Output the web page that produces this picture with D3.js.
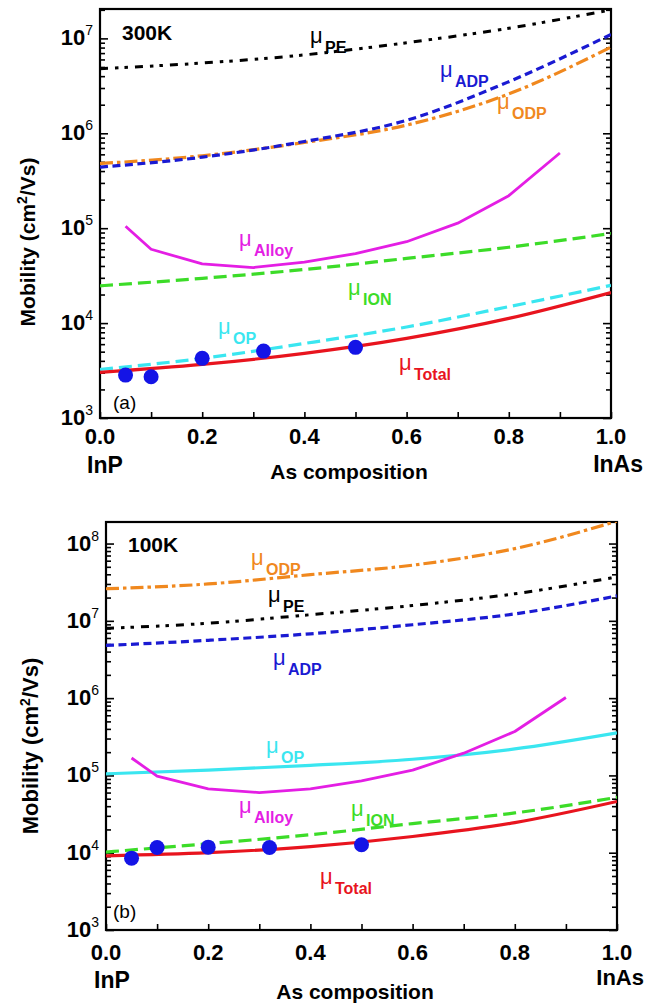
<!DOCTYPE html>
<html><head><meta charset="utf-8">
<script src="https://cdn.jsdelivr.net/npm/d3@7"></script>
<style>body{margin:0;background:#fff}svg{display:block}text{font-family:Arial,"Liberation Sans",sans-serif}</style>
</head><body>
<svg id="c" width="645" height="1008"></svg>
<script>
// ---------- data ----------
const compX = [0, 0.2, 0.4, 0.6, 0.8, 1.0];
const alloyX = [0.05, 0.1, 0.2, 0.3, 0.4, 0.5, 0.6, 0.7, 0.8, 0.9];
const expX = [0.05, 0.1, 0.2, 0.32, 0.5];
const xTickValues = [0, 0.2, 0.4, 0.6, 0.8, 1.0];
const xTickLabels = ["0.0", "0.2", "0.4", "0.6", "0.8", "1.0"];
const xMinorTicks = [0.1, 0.3, 0.5, 0.7, 0.9];

// 300 K
const pe300 = [4.8e6, 5.5e6, 6.7e6, 9.0e6, 1.28e7, 2.0e7];
const adp300 = [4.4e5, 5.6e5, 8.2e5, 1.37e6, 3.5e6, 1.1e7];
const odp300 = [4.8e5, 5.8e5, 8.0e5, 1.22e6, 2.6e6, 8.1e6];
const alloy300 = [1.05e5, 6.0e4, 4.2e4, 3.85e4, 4.4e4, 5.4e4, 7.2e4, 1.13e5, 2.2e5, 6.2e5];
const ion300 = [2.47e4, 2.96e4, 3.67e4, 4.8e4, 6.3e4, 8.8e4];
const op300 = [3.25e3, 4.25e3, 6.1e3, 9.1e3, 1.49e4, 2.5e4];
const total300 = [3.03e3, 3.67e3, 4.8e3, 6.9e3, 1.12e4, 2.1e4];
const exp300 = [2.83e3, 2.72e3, 4.25e3, 5.07e3, 5.55e3];

// 100 K
const odp100 = [2.6e7, 3.0e7, 3.96e7, 5.25e7, 8.6e7, 1.95e8];
const pe100 = [8.0e6, 9.3e6, 1.2e7, 1.58e7, 2.24e7, 3.7e7];
const adp100 = [4.8e6, 5.6e6, 6.8e6, 8.9e6, 1.23e7, 2.1e7];
const op100 = [1.05e5, 1.17e5, 1.35e5, 1.62e5, 2.2e5, 3.55e5];
const alloy100 = [1.68e5, 9.8e4, 6.7e4, 6.0e4, 6.7e4, 8.5e4, 1.17e5, 1.94e5, 3.7e5, 1.02e6];
const ion100 = [1.02e4, 1.31e4, 1.71e4, 2.38e4, 3.27e4, 5.2e4];
const total100 = [9.1e3, 1.0e4, 1.2e4, 1.62e4, 2.45e4, 4.6e4];
const exp100 = [8.5e3, 1.17e4, 1.18e4, 1.17e4, 1.27e4];

const colors = {pe:"#000000", adp:"#1a1ad2", odp:"#f0881e", alloy:"#e41ee4", ion:"#3cdc28", op:"#3ae6f0", total:"#e8141e", exp:"#1414e6"};
const dash = {pe:"8,7,3.5,6,3.5,7", adp:"8,4.5", odp:"13,4,3.5,4", ion:"13,6", opDash:"13,6"};

// ---------- drawing ----------
const svg = d3.select("#c");

function panel(cfg) {
  const x = d3.scaleLinear().domain([0, 1]).range([cfg.x0, cfg.x1]);
  const y = d3.scaleLog().domain(cfg.yDomain).range([cfg.y1, cfg.y0]);
  const g = svg.append("g");
  const clipId = "clip" + cfg.id;
  g.append("clipPath").attr("id", clipId).append("rect")
    .attr("x", cfg.x0).attr("y", cfg.y0).attr("width", cfg.x1 - cfg.x0).attr("height", cfg.y1 - cfg.y0);

  // ticks
  const decades = d3.range(cfg.dec[0], cfg.dec[1] + 1).map(e => Math.pow(10, e));
  const minors = [];
  decades.forEach(d => { for (let k = 2; k <= 9; k++) { const v = d * k; if (v < cfg.yDomain[1]) minors.push(v); } });
  const tickStyle = sel => { sel.select(".domain").remove(); sel.selectAll("line").attr("stroke", "#000").attr("stroke-width", 1.6); };
  g.append("g").attr("transform", `translate(${cfg.x0},0)`)
    .call(d3.axisLeft(y).tickValues(decades).tickSizeInner(-8).tickSizeOuter(0).tickFormat("")).call(tickStyle);
  g.append("g").attr("transform", `translate(${cfg.x0},0)`)
    .call(d3.axisLeft(y).tickValues(minors).tickSizeInner(-5).tickSizeOuter(0).tickFormat("")).call(tickStyle);
  g.append("g").attr("transform", `translate(${cfg.x1},0)`)
    .call(d3.axisRight(y).tickValues(decades).tickSizeInner(-8).tickSizeOuter(0).tickFormat("")).call(tickStyle);
  g.append("g").attr("transform", `translate(${cfg.x1},0)`)
    .call(d3.axisRight(y).tickValues(minors).tickSizeInner(-5).tickSizeOuter(0).tickFormat("")).call(tickStyle);
  g.append("g").attr("transform", `translate(0,${cfg.y1})`)
    .call(d3.axisBottom(x).tickValues(xTickValues.concat(xMinorTicks)).tickSizeInner(-6).tickSizeOuter(0).tickFormat("")).call(tickStyle);

  // frame
  g.append("rect").attr("x", cfg.x0).attr("y", cfg.y0).attr("width", cfg.x1 - cfg.x0).attr("height", cfg.y1 - cfg.y0)
    .attr("fill", "none").attr("stroke", "#000").attr("stroke-width", 2.2);

  // y tick labels
  decades.forEach(d => {
    const t = g.append("text").attr("x", cfg.x0 - 7).attr("y", y(d) + 7).attr("text-anchor", "end")
      .attr("font-size", 22).attr("font-weight", "bold");
    t.append("tspan").text("10");
    t.append("tspan").attr("dy", -10).attr("font-size", 14).attr("font-weight", "normal").text(Math.round(Math.log10(d)));
  });
  // x tick labels
  xTickValues.forEach((v, i) => {
    g.append("text").attr("x", x(v)).attr("y", cfg.xLabY).attr("text-anchor", "middle")
      .attr("font-size", 22).attr("font-weight", "bold").text(xTickLabels[i]);
  });
  g.append("text").attr("x", cfg.inpX).attr("y", cfg.inpY).attr("text-anchor", "middle")
    .attr("font-size", 23).attr("font-weight", "bold").text("InP");
  g.append("text").attr("x", cfg.inasX).attr("y", cfg.inasY).attr("text-anchor", "end")
    .attr("font-size", cfg.inasSize).attr("font-weight", "bold").text("InAs");
  g.append("text").attr("x", cfg.xTitleX).attr("y", cfg.xTitleY).attr("text-anchor", "middle")
    .attr("font-size", 21).attr("font-weight", "bold").text("As composition");
  // y title
  const yt = g.append("text").attr("transform", `translate(${cfg.yTitleX},${cfg.yTitleY}) rotate(-90)`)
    .attr("text-anchor", "middle").attr("font-size", cfg.yTitleSize).attr("font-weight", "bold");
  yt.append("tspan").text("Mobility (cm");
  yt.append("tspan").attr("dy", -8).attr("font-size", 14).text("2");
  yt.append("tspan").attr("dy", 8).text("/Vs)");

  // curves
  const line = d3.line().x(d => x(d[0])).y(d => y(d[1])).curve(d3.curveMonotoneX);
  const lineLin = d3.line().x(d => x(d[0])).y(d => y(d[1]));
  const plot = g.append("g").attr("clip-path", `url(#${clipId})`);
  cfg.series.forEach(s => {
    const pts = s.xs.map((v, i) => [v, s.ys[i]]);
    plot.append("path").attr("d", (s.linear ? lineLin : line)(pts)).attr("fill", "none")
      .attr("stroke", s.color).attr("stroke-width", s.w).attr("stroke-dasharray", s.dash || null)
      .attr("stroke-linejoin", "round");
  });
  plot.selectAll("circle.e").data(expX.map((v, i) => [v, cfg.exp[i]])).join("circle")
    .attr("cx", d => x(d[0])).attr("cy", d => y(d[1])).attr("r", 7.5).attr("fill", colors.exp);

  // labels
  cfg.labels.forEach(l => {
    const t = g.append("text").attr("x", l.x).attr("y", l.y).attr("fill", l.color);
    t.append("tspan").attr("font-size", 22).text("\u03bc");
    t.append("tspan").attr("x", l.x + 15).attr("dy", 10).attr("font-size", 16).attr("font-weight", "bold").text(l.sub);
  });
  g.append("text").attr("x", cfg.tempX).attr("y", cfg.tempY).attr("font-family", "'Liberation Serif','Times New Roman',serif")
    .attr("font-size", 21).attr("font-weight", "bold").text(cfg.temp);
  g.append("text").attr("x", cfg.tagX).attr("y", cfg.tagY).attr("font-size", 19).text(cfg.tag);
}

panel({
  id: "a", x0: 100, x1: 611, y0: 9, y1: 418, yDomain: [1e3, 2.04e7], dec: [3, 7],
  xLabY: 444, inpX: 105, inpY: 473, inasX: 643, inasY: 472, inasSize: 23, xTitleX: 349, xTitleY: 479,
  yTitleX: 35, yTitleY: 242, yTitleSize: 21,
  temp: "300K", tempX: 122, tempY: 40, tag: "(a)", tagX: 113, tagY: 409,
  exp: exp300,
  series: [
    {xs: compX, ys: pe300, color: colors.pe, w: 3, dash: dash.pe},
    {xs: compX, ys: odp300, color: colors.odp, w: 3.2, dash: dash.odp},
    {xs: compX, ys: adp300, color: colors.adp, w: 3.2, dash: dash.adp},
    {xs: alloyX, ys: alloy300, color: colors.alloy, w: 2.8, linear: true},
    {xs: compX, ys: ion300, color: colors.ion, w: 3.2, dash: dash.ion},
    {xs: compX, ys: op300, color: colors.op, w: 3.2, dash: dash.opDash},
    {xs: compX, ys: total300, color: colors.total, w: 3.2}
  ],
  labels: [
    {x: 310, y: 43, sub: "PE", color: colors.pe},
    {x: 440, y: 77, sub: "ADP", color: colors.adp},
    {x: 497, y: 109, sub: "ODP", color: colors.odp},
    {x: 239, y: 246, sub: "Alloy", color: colors.alloy},
    {x: 348, y: 295, sub: "ION", color: colors.ion},
    {x: 218, y: 334, sub: "OP", color: colors.op},
    {x: 399, y: 370, sub: "Total", color: colors.total}
  ]
});

panel({
  id: "b", x0: 106, x1: 617, y0: 522, y1: 930, yDomain: [1e3, 1.9e8], dec: [3, 8],
  xLabY: 960, inpX: 112, inpY: 988, inasX: 644, inasY: 985, inasSize: 22, xTitleX: 355, xTitleY: 999,
  yTitleX: 38, yTitleY: 746, yTitleSize: 22,
  temp: "100K", tempX: 128, tempY: 552, tag: "(b)", tagX: 113, tagY: 918,
  exp: exp100,
  series: [
    {xs: compX, ys: odp100, color: colors.odp, w: 3.2, dash: dash.odp},
    {xs: compX, ys: pe100, color: colors.pe, w: 3, dash: dash.pe},
    {xs: compX, ys: adp100, color: colors.adp, w: 3.2, dash: dash.adp},
    {xs: compX, ys: op100, color: colors.op, w: 3.2},
    {xs: alloyX, ys: alloy100, color: colors.alloy, w: 2.8, linear: true},
    {xs: compX, ys: ion100, color: colors.ion, w: 3.2, dash: dash.ion},
    {xs: compX, ys: total100, color: colors.total, w: 3.2}
  ],
  labels: [
    {x: 251, y: 565, sub: "ODP", color: colors.odp},
    {x: 268, y: 602, sub: "PE", color: colors.pe},
    {x: 273, y: 665, sub: "ADP", color: colors.adp},
    {x: 266, y: 753, sub: "OP", color: colors.op},
    {x: 239, y: 813, sub: "Alloy", color: colors.alloy},
    {x: 351, y: 816, sub: "ION", color: colors.ion},
    {x: 320, y: 884, sub: "Total", color: colors.total}
  ]
});
</script>
</body></html>
